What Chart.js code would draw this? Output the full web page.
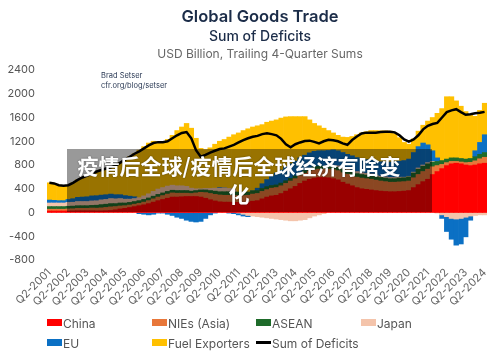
<!DOCTYPE html>
<html>
<head>
<meta charset="utf-8">
<script src="https://cdn.jsdelivr.net/npm/chart.js@4.4.1/dist/chart.umd.min.js"></script>
<style>
  body { margin: 0; background: #fff; }
  #wrap { position: relative; width: 500px; height: 362px; overflow: hidden; font-family: Inter, 'Open Sans', sans-serif; }
  canvas { position: absolute; left: 0; top: 0; }
  .t { position: absolute; left: 10px; width: 500px; text-align: center; white-space: nowrap; }
  #t1 { top: 6px; font-size: 16.5px; font-weight: 600; color: #1b2c48; }
  #t2 { top: 27px; font-size: 14px; font-weight: 500; color: #1b2c48; }
  #t3 { top: 46px; font-size: 12px; color: #666; }
  #src { position: absolute; left: 101px; top: 71px; font-size: 7.5px; line-height: 10px; color: #2b3a55; }
  .lg { position: absolute; font-size: 12px; color: #555; white-space: nowrap; line-height: 16px; }
  .lg i { display: inline-block; width: 15px; height: 7px; vertical-align: 2px; margin-right: 1px; }
  .lg i.ln { height: 3px; vertical-align: 4px; background: #000; }
  #shade { position: absolute; left: 67px; top: 149px; width: 365px; height: 63px; background: rgba(0,0,0,0.4); }
  #cap { position: absolute; left: 39px; top: 151px; width: 400px; text-align: center; color: #fff;
         font-family: 'Noto Sans CJK SC', sans-serif; font-weight: 700; font-size: 21px; line-height: 28px;
         text-shadow: 0 0 2px rgba(0,0,0,0.45); }
</style>
</head>
<body>
<div id="wrap">
  <canvas id="chart" width="500" height="362"></canvas>
  <div class="t" id="t1">Global Goods Trade</div>
  <div class="t" id="t2">Sum of Deficits</div>
  <div class="t" id="t3">USD Billion, Trailing 4-Quarter Sums</div>
  <div id="src">Brad Setser<br>cfr.org/blog/setser</div>
  <div class="lg" style="left:47px;top:316px"><i style="background:#ff0000"></i>China</div>
  <div class="lg" style="left:152px;top:316px"><i style="background:#e8773a"></i>NIEs (Asia)</div>
  <div class="lg" style="left:256px;top:316px"><i style="background:#1e6b2a"></i>ASEAN</div>
  <div class="lg" style="left:361px;top:316px"><i style="background:#f4c4ab"></i>Japan</div>
  <div class="lg" style="left:47px;top:336px"><i style="background:#0b70c4"></i>EU</div>
  <div class="lg" style="left:152px;top:336px"><i style="background:#ffc000"></i>Fuel Exporters</div>
  <div class="lg" style="left:256px;top:336px"><i class="ln"></i>Sum of Deficits</div>
  <div id="shade"></div>
  <div id="cap">疫情后全球/疫情后全球经济有啥变<br>化</div>
</div>
<script>
Chart.defaults.font.family = "Inter, 'Open Sans', sans-serif";
Chart.defaults.color = '#666';

// Trimestres Q2-2001 ... Q2-2024
const quarters = [];
for (let i = 0; i < 93; i++) {
    const q = ((i + 1) % 4) + 1;
    const year = 2001 + Math.floor((i + 1) / 4);
    quarters.push('Q' + q + '-' + year);
}

const china = [25,25,25,25, 25,28,30,30, 30,30,28,28, 30,35,45,60, 70,85,100,115, 130,150,175,200,
    220,240,260,260, 265,270,270,270, 260,240,215,195, 180,175,175,170, 170,170,175,190,
    200,230,260,280, 290,320,360,400, 440,490,530,560, 580,590,590,585, 570,550,510,480,
    450,420,400,390, 380,370,360,355, 350,350,355,360, 370,420,470,520, 560,640,690,740,
    790,820,830,820, 800,790,800,820, 830];
const nies = [30,30,30,30, 35,35,40,40, 40,45,45,50, 55,60,55,50, 45,40,40,40, 45,50,55,60,
    65,70,70,65, 60,55,50,60, 80,95,105,110, 115,115,115,115, 115,115,115,120,
    120,125,125,130, 130,130,130,130, 130,130,130,135, 140,140,140,145, 150,155,160,165,
    170,175,180,180, 180,175,170,165, 160,160,160,160, 160,165,170,170, 170,130,100,70,
    50,40,30,30, 40,55,70,85, 100];
const asean = [45,45,45,45, 45,45,45,45, 45,45,50,55, 55,55,50,50, 45,45,45,45, 45,45,45,45,
    45,45,45,45, 45,45,40,40, 40,45,50,55, 55,60,60,60, 60,60,55,55,
    50,50,50,45, 45,45,45,45, 45,45,45,50, 50,50,50,55, 55,55,60,60,
    60,60,60,60, 60,60,60,60, 60,60,65,65, 70,80,90,90, 90,80,70,65,
    60,60,60,60, 60,65,70,75, 80];
const japan = [60,60,60,60, 65,65,70,70, 70,75,75,80, 80,85,80,75, 65,55,50,50, 60,70,80,90,
    90,90,85,80, 80,70,50,30, 20,25,35,50, 60,65,55,40, -10,-30,-50,-60,
    -70,-80,-90,-100, -110,-120,-130,-140, -140,-130,-120,-90, -60,-40,-20,0, 20,25,30,30,
    35,35,30,30, 30,25,20,20, 20,20,15,10, 10,15,20,20, 20,10,-10,-40,
    -70,-100,-110,-100, -80,-60,-50,-40, -40];
const eu = [50,45,40,40, 50,60,70,75, 80,85,85,80, 80,75,70,65, 60,50,30,-20, -30,-40,-30,-10,
    -10,-30,-50,-80, -100,-130,-150,-160, -150,-100,-40,-10, 10,0,-10,-20, -30,-30,-20,0,
    40,80,120,160, 200,220,235,245, 250,255,260,260, 260,260,260,260, 260,255,250,245,
    240,235,230,230, 230,235,245,250, 260,265,270,280, 290,330,360,370, 300,180,60,-60,
    -250,-350,-440,-430, -330,-70,100,200, 300];
const fuel = [290,285,260,250, 240,265,295,330, 355,370,405,420, 440,450,490,540, 605,665,725,800,
    830,855,845,800, 775,785,840,930, 990,1060,1010,850, 680,655,685,740, 780,815,865,925,
    995,1035,1065,1075, 1050,995,965,925, 895,875,840,795, 750,695,650,555, 470,420,380,335,
    285,260,260,285, 325,385,440,470, 500,515,520,525, 520,475,395,305, 250,230,260,300,
    400,560,750,875, 1050,1030,960,880, 800,730,580,540, 530];
const sumDeficits = [500,490,460,450, 460,500,550,590, 620,650,690,715, 740,760,790,840,
    890,940,990,1030, 1080,1130,1170,1185, 1185,1200,1250,1300, 1340,1355,1250,1050,
    940,970,1010,1040, 1070,1080,1110,1140, 1180,1220,1250,1275, 1290,1320,1335,1320,
    1300,1240,1150,1100, 1150,1180,1205,1210, 1190,1165,1200,1225, 1215,1200,1165,1140,
    1220,1280,1330,1345, 1345,1345,1355,1360, 1360,1350,1300,1230, 1195,1230,1300,1400,
    1460,1490,1510,1600, 1690,1720,1740,1690, 1645,1655,1670,1680, 1695];

const yTicks = [-800, -400, 0, 400, 800, 1200, 1600, 2000, 2400];

function bars(label, data, color) {
    return {
        type: 'bar', label: label, data: data, backgroundColor: color,
        borderWidth: 0, barPercentage: 1, categoryPercentage: 1, order: 1
    };
}

new Chart(document.getElementById('chart'), {
    data: {
        labels: quarters,
        datasets: [
            bars('China', china, '#ff0000'),
            bars('NIEs (Asia)', nies, '#e8773a'),
            bars('ASEAN', asean, '#1e6b2a'),
            bars('Japan', japan, '#f4c4ab'),
            bars('EU', eu, '#0b70c4'),
            bars('Fuel Exporters', fuel, '#ffc000'),
            {
                type: 'line',
                label: 'Sum of Deficits',
                data: sumDeficits,
                stack: 'sum',
                borderColor: '#000',
                borderWidth: 2.5,
                pointRadius: 0,
                tension: 0,
                fill: false,
                order: 0
            }
        ]
    },
    options: {
        responsive: false,
        animation: false,
        layout: { padding: { left: 0, right: 12, top: 70, bottom: 0 } },
        plugins: {
            legend: { display: false },
            tooltip: { enabled: false }
        },
        scales: {
            x: {
                stacked: true,
                grid: { display: false, drawTicks: false },
                border: { display: false },
                afterFit: function (scale) { scale.height = 102; },
                ticks: {
                    autoSkip: false,
                    minRotation: 45,
                    maxRotation: 45,
                    padding: 6,
                    color: '#666',
                    font: { size: 11 },
                    callback: function (value, index) {
                        return index % 4 === 0 ? quarters[index] : '';
                    }
                }
            },
            y: {
                stacked: true,
                min: -800,
                max: 2400,
                grid: { display: false, drawTicks: false },
                border: { display: false },
                afterFit: function (scale) { scale.width = 47; },
                afterBuildTicks: function (scale) {
                    scale.ticks = yTicks.map(function (v) { return { value: v }; });
                },
                ticks: {
                    padding: 12,
                    color: '#555',
                    font: { size: 11 },
                    callback: function (value) { return String(value); }
                }
            }
        }
    }
});
</script>
</body>
</html>
